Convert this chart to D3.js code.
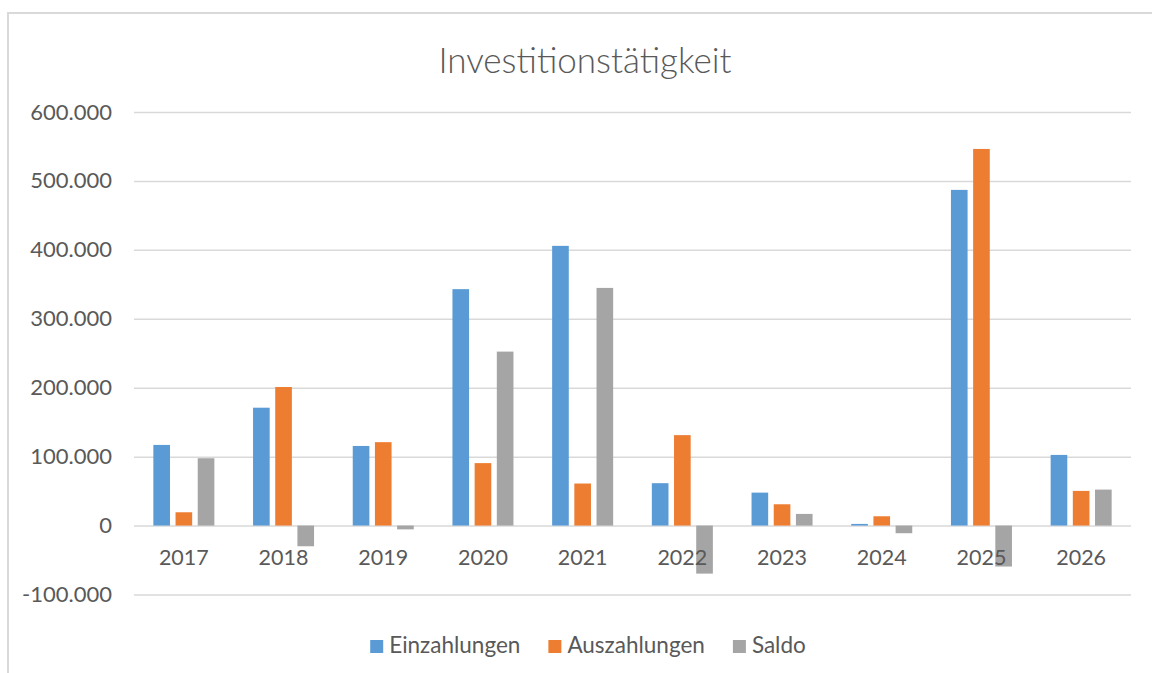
<!DOCTYPE html>
<html>
<head>
<meta charset="utf-8">
<script src="https://cdn.jsdelivr.net/npm/d3@7/dist/d3.min.js"></script>
<style>
  html, body { margin: 0; padding: 0; background: #ffffff; }
  svg { display: block; }
  text { font-family: Lato, "Open Sans", "DejaVu Sans", sans-serif; fill: #595959; }
</style>
</head>
<body>
<svg id="chart" width="1152" height="673"></svg>
<script>
// ---- data ----
const title = "Investitionstätigkeit";
const categories = ["2017", "2018", "2019", "2020", "2021", "2022", "2023", "2024", "2025", "2026"];
const seriesNames = ["Einzahlungen", "Auszahlungen", "Saldo"];
const einzahlungen = [117000, 171000, 115500, 343000, 405800, 61500, 47800, 2400, 487000, 102500];
const auszahlungen = [19300, 201000, 121000, 90600, 61000, 131200, 30900, 13500, 546400, 50300];
const saldo = [97700, -30000, -5500, 252400, 344800, -69700, 16900, -11100, -59400, 52200];
const yTicks = [-100000, 0, 100000, 200000, 300000, 400000, 500000, 600000];
const colors = ["#5B9BD5", "#ED7D31", "#A5A5A5"];

const seriesValues = [einzahlungen, auszahlungen, saldo];

const svg = d3.select("#chart");
const W = 1152, H = 673;

svg.append("rect").attr("x", 0).attr("y", 0).attr("width", W).attr("height", H).attr("fill", "#fff");
// chart area border (extends past the viewport on right/bottom)
svg.append("rect").attr("x", 8).attr("y", 13).attr("width", 1300).attr("height", 800)
  .attr("fill", "none").attr("stroke", "#D9D9D9").attr("stroke-width", 2);

const plotLeft = 134, plotRight = 1131, plotTop = 112, plotBottom = 594.5;

const locale = d3.formatLocale({ decimal: ",", thousands: ".", grouping: [3], currency: ["", "€"], minus: "-" });
const fmt = locale.format(",.0f");

const x0 = d3.scaleBand().domain(categories).range([plotLeft, plotRight])
  .paddingInner(0.388).paddingOuter(0.194);
const x1 = d3.scaleBand().domain(seriesNames).range([0, x0.bandwidth()]).paddingInner(0.25);
const y = d3.scaleLinear().domain([-100000, 600000]).range([plotBottom, plotTop]);

// gridlines
const yAxis = d3.axisLeft(y).tickValues(yTicks).tickSize(-(plotRight - plotLeft)).tickFormat(fmt).tickPadding(22);
const gy = svg.append("g").attr("transform", `translate(${plotLeft},0)`).call(yAxis);
gy.select(".domain").remove();
gy.selectAll(".tick line").attr("stroke", "#D9D9D9").attr("stroke-width", 1.5);
gy.selectAll(".tick text").attr("font-size", "22px").attr("fill", "#595959")
  .style("font-family", "Lato, 'Open Sans', sans-serif");

// bars
const data = categories.map((c, i) => ({ cat: c, vals: seriesNames.map((s, j) => ({ s, j, v: seriesValues[j][i] })) }));
const groups = svg.append("g").selectAll("g").data(data).join("g")
  .attr("transform", d => `translate(${x0(d.cat)},0)`);
groups.selectAll("rect").data(d => d.vals).join("rect")
  .attr("x", d => x1(d.s))
  .attr("width", x1.bandwidth())
  .attr("y", d => y(Math.max(0, d.v)))
  .attr("height", d => Math.abs(y(d.v) - y(0)))
  .attr("fill", d => colors[d.j]);

// x category labels
svg.append("g").selectAll("text").data(categories).join("text")
  .attr("x", d => x0(d) + x0.bandwidth() / 2)
  .attr("y", 565)
  .attr("text-anchor", "middle")
  .attr("font-size", "21.5px")
  .text(d => d);

// title
svg.append("text").attr("x", 585).attr("y", 72.5).attr("text-anchor", "middle")
  .attr("font-size", "35px").attr("font-weight", 300).text(title);

// legend
const lg = svg.append("g");
let cx = 0;
seriesNames.forEach((s, i) => {
  const g = lg.append("g").attr("transform", `translate(${cx},0)`);
  g.append("rect").attr("x", 0).attr("y", 640).attr("width", 13).attr("height", 13).attr("fill", colors[i]);
  const t = g.append("text").attr("x", 19).attr("y", 653).attr("font-size", "22.5px").text(s);
  const w = t.node().getComputedTextLength();
  cx += 19 + w + 28;
});
const totalW = cx - 28;
lg.attr("transform", `translate(${588 - totalW / 2},0)`);
</script>
</body>
</html>
